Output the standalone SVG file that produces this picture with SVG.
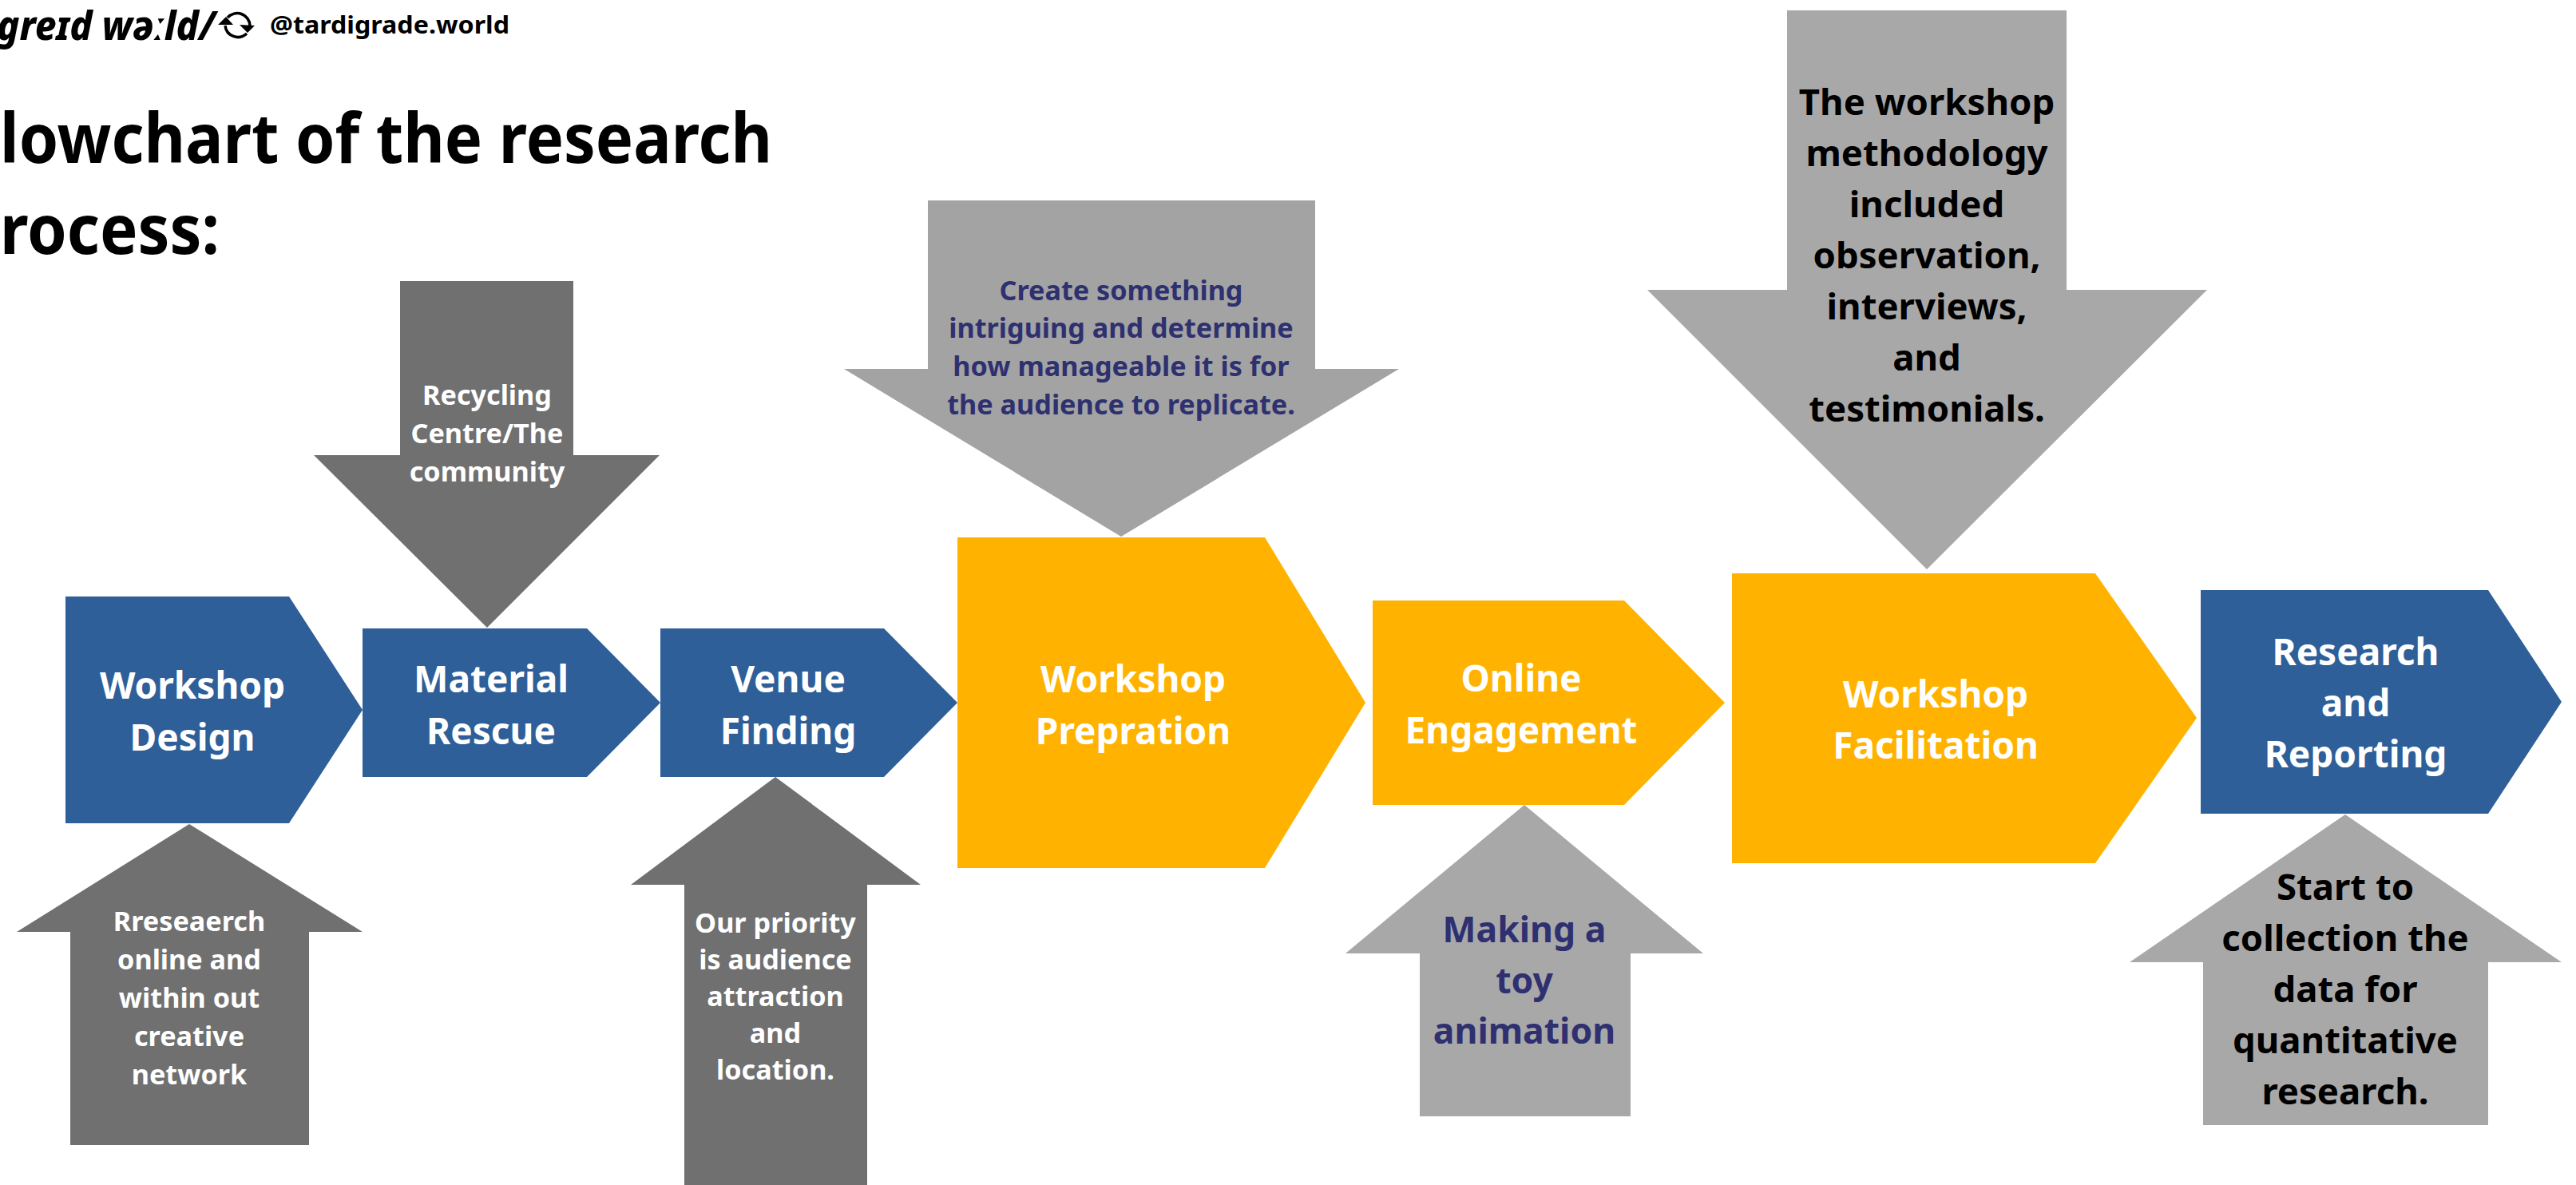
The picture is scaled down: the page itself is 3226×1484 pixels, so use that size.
<svg xmlns="http://www.w3.org/2000/svg" width="3226" height="1484" viewBox="0 0 3226 1484">
<style>
.t{font-family:"Noto Sans","Liberation Sans",sans-serif;font-weight:700;text-anchor:middle}
.title{font-family:"Noto Sans","Liberation Sans",sans-serif;font-weight:700;font-size:86px;fill:#000}
.w{fill:#fff}.n{fill:#2e3070}.k{fill:#000}
.blue{fill:#2e5f99}.orange{fill:#ffb300}.dark{fill:#707070}.mid{fill:#a3a3a3}.light{fill:#a9a8a9}
.l{font-size:46px}.s{font-size:34.2px}.xl{font-size:45.5px}.toy{font-size:44.5px}
</style>
<rect width="3226" height="1484" fill="#fff"/>
<g id="header">
<text x="-4" y="50" font-family="'Noto Sans',sans-serif" font-style="italic" font-size="50" font-weight="800" textLength="274" lengthAdjust="spacingAndGlyphs">greɪd wəːld/</text>
<g fill="none" stroke="#000" stroke-width="3.5"><path d="M285 22A16 16 0 0 1 313 32"/><path d="M282 32A16 16 0 0 0 309 42"/></g>
<path d="M273 31L283 21L292 31ZM300 31L310 41L319 32Z" fill="#000"/>
<text x="338" y="42" font-family="'Noto Sans',sans-serif" font-weight="700" font-size="31" textLength="300" lengthAdjust="spacingAndGlyphs">@tardigrade.world</text>
</g>
<g id="title">
<text class="title" x="0" y="204" textLength="967" lengthAdjust="spacingAndGlyphs">lowchart of the research</text>
<text class="title" x="0" y="318" textLength="275" lengthAdjust="spacingAndGlyphs">rocess:</text>
</g>
<g id="connectors">
<g id="arrow-recycling"><path class="dark" d="M501 352H718V570H826L610 786L393 570H501Z"/><text class="t s w"><tspan x="610" y="507">Recycling</tspan><tspan x="610" y="555">Centre/The</tspan><tspan x="610" y="603">community</tspan></text></g>
<g id="arrow-research"><path class="dark" d="M237 1032L454 1167H387V1434H88V1167H21Z"/><text class="t s w"><tspan x="237" y="1166">Rreseaerch</tspan><tspan x="237" y="1214">online and</tspan><tspan x="237" y="1262">within out</tspan><tspan x="237" y="1310">creative</tspan><tspan x="237" y="1358">network</tspan></text></g>
<g id="arrow-priority"><path class="dark" d="M971 973L1153 1108H1086V1484H857V1108H790Z"/><text class="t s w"><tspan x="971" y="1168">Our priority</tspan><tspan x="971" y="1214">is audience</tspan><tspan x="971" y="1260">attraction</tspan><tspan x="971" y="1306">and</tspan><tspan x="971" y="1352">location.</tspan></text></g>
<g id="arrow-create"><path class="mid" d="M1162 251H1647V462H1752L1404 672L1057 462H1162Z"/><text class="t s n"><tspan x="1404" y="376">Create something</tspan><tspan x="1404" y="423">intriguing and determine</tspan><tspan x="1404" y="471">how manageable it is for</tspan><tspan x="1404" y="519">the audience to replicate.</tspan></text></g>
<g id="arrow-toy"><path class="light" d="M1909 1008L2133 1194H2042V1398H1778V1194H1685Z"/><text class="t toy n"><tspan x="1909" y="1180">Making a</tspan><tspan x="1909" y="1244">toy</tspan><tspan x="1909" y="1307">animation</tspan></text></g>
<g id="arrow-method"><path class="light" d="M2238 13H2588V363H2764L2413 713L2063 363H2238Z"/><text class="t xl k"><tspan x="2413" y="144">The workshop</tspan><tspan x="2413" y="208">methodology</tspan><tspan x="2413" y="272">included</tspan><tspan x="2413" y="336">observation,</tspan><tspan x="2413" y="400">interviews,</tspan><tspan x="2413" y="464">and</tspan><tspan x="2413" y="528">testimonials.</tspan></text></g>
<g id="arrow-data"><path class="light" d="M2937 1020L3208 1205H3116V1409H2759V1205H2667Z"/><text class="t xl k"><tspan x="2937" y="1127">Start to</tspan><tspan x="2937" y="1191">collection the</tspan><tspan x="2937" y="1255">data for</tspan><tspan x="2937" y="1319">quantitative</tspan><tspan x="2937" y="1383">research.</tspan></text></g>
</g>
<g id="node-design"><path class="blue" d="M82 747H362L454 889L362 1031H82Z"/><text class="t l w"><tspan x="241" y="875">Workshop</tspan><tspan x="241" y="940">Design</tspan></text></g>
<g id="node-rescue"><path class="blue" d="M454 787H735L827 880L735 973H454Z"/><text class="t l w"><tspan x="615" y="867">Material</tspan><tspan x="615" y="932">Rescue</tspan></text></g>
<g id="node-venue"><path class="blue" d="M827 787H1107L1199 880L1107 973H827Z"/><text class="t l w"><tspan x="987" y="867">Venue</tspan><tspan x="987" y="932">Finding</tspan></text></g>
<g id="node-preparation"><path class="orange" d="M1199 673H1584L1710 880L1584 1087H1199Z"/><text class="t l w"><tspan x="1419" y="867">Workshop</tspan><tspan x="1419" y="932">Prepration</tspan></text></g>
<g id="node-online"><path class="orange" d="M1719 752H2034L2160 880L2034 1008H1719Z"/><text class="t l w"><tspan x="1905" y="866">Online</tspan><tspan x="1905" y="931">Engagement</tspan></text></g>
<g id="node-facilitation"><path class="orange" d="M2169 718H2624L2751 899L2624 1081H2169Z"/><text class="t l w"><tspan x="2424" y="886">Workshop</tspan><tspan x="2424" y="950">Facilitation</tspan></text></g>
<g id="node-reporting"><path class="blue" d="M2756 739H3116L3208 879L3116 1019H2756Z"/><text class="t l w"><tspan x="2950" y="833">Research</tspan><tspan x="2950" y="897">and</tspan><tspan x="2950" y="961">Reporting</tspan></text></g>
</svg>
